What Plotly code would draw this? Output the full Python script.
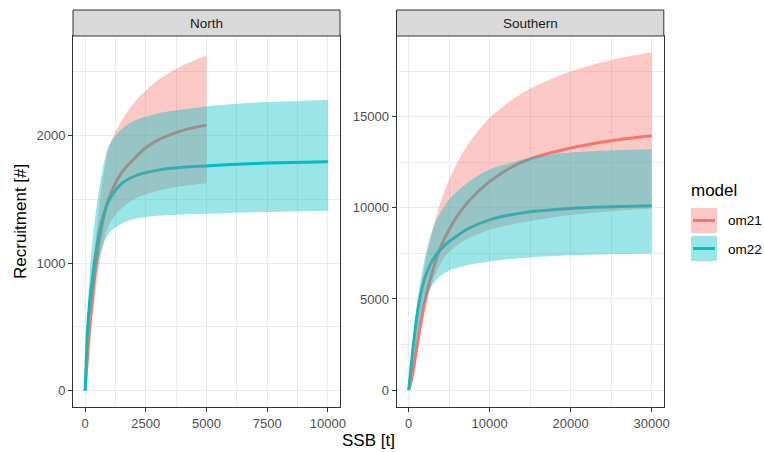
import plotly.graph_objects as go

# ---------------- data ----------------
models = ["om21", "om22"]
panels = ["North", "Southern"]

# North
north_ssb_om21 = [0, 50, 100, 200, 300, 400, 600, 800, 1000, 1500, 2000, 2500, 3000, 4000, 5000]
north_om21_med = [0, 140, 270, 520, 720, 910, 1190, 1390, 1520, 1710, 1815, 1905, 1965, 2040, 2083]
north_om21_low = [0, 110, 220, 420, 590, 740, 1000, 1190, 1310, 1430, 1500, 1540, 1568, 1605, 1628]
north_om21_upp = [0, 180, 340, 640, 900, 1120, 1480, 1740, 1920, 2120, 2255, 2355, 2435, 2550, 2630]

north_ssb_om22 = [0, 50, 100, 200, 300, 400, 600, 800, 1000, 1500, 2000, 2500, 3000, 4000, 5000, 6000, 7500, 10000]
north_om22_med = [0, 260, 480, 720, 880, 1030, 1255, 1405, 1500, 1625, 1680, 1710, 1730, 1752, 1763, 1774, 1785, 1796]
north_om22_low = [0, 180, 330, 560, 730, 850, 1060, 1170, 1240, 1310, 1345, 1362, 1372, 1382, 1388, 1394, 1402, 1412]
north_om22_upp = [0, 330, 600, 950, 1170, 1340, 1610, 1810, 1930, 2050, 2115, 2150, 2175, 2205, 2230, 2247, 2264, 2280]

# Southern
south_ssb = [0, 250, 500, 1000, 1500, 2000, 2500, 3000, 3500, 4000, 5000, 6000, 7500, 10000, 12500, 15000, 20000, 25000, 30000]
south_om21_med = [0, 400, 900, 2300, 3700, 4850, 5800, 6600, 7300, 7900, 8800, 9550, 10400, 11440, 12180, 12680, 13280, 13680, 13950]
south_om21_low = [0, 300, 650, 1800, 3200, 4300, 5250, 6000, 6550, 7000, 7580, 7950, 8350, 8790, 9070, 9276, 9606, 9815, 9960]
south_om21_upp = [0, 1050, 2100, 3900, 5500, 6877, 7953, 8869, 9666, 10371, 11544, 12486, 13594, 14926, 15848, 16532, 17476, 18110, 18534]

south_om22_med = [0, 1050, 2150, 3980, 5300, 6150, 6720, 7150, 7480, 7740, 8150, 8470, 8890, 9340, 9600, 9780, 9964, 10050, 10110]
south_om22_low = [0, 700, 1400, 2700, 4000, 4850, 5400, 5800, 6080, 6300, 6550, 6710, 6880, 7060, 7180, 7280, 7395, 7450, 7487]
south_om22_upp = [0, 1300, 2600, 4700, 6100, 7250, 8150, 8850, 9380, 9800, 10450, 10900, 11450, 12100, 12450, 12750, 13030, 13150, 13230]

north_xticks = [0, 2500, 5000, 7500, 10000]
north_yticks = [0, 1000, 2000]
south_xticks = [0, 10000, 20000, 30000]
south_yticks = [0, 5000, 10000, 15000]

# ---------------- styling ----------------
W, H = 764, 452
FONT = "Liberation Sans, Arial, sans-serif"
col = {"om21": "#F8766D", "om22": "#00BFC4"}
fillc = {"om21": "rgba(248,118,109,0.4)", "om22": "rgba(0,191,196,0.4)"}
SMOOTH = 0.9


def PX(x):
    return x / W


def PY(y):
    return 1 - y / H


panel_top, panel_bot = 36, 407
strip_top = 10
north_x = (73, 340)
south_x = (396.5, 663.8)

fig = go.Figure()

data = {
    "North": {
        "om21": (north_ssb_om21, north_om21_med, north_om21_low, north_om21_upp),
        "om22": (north_ssb_om22, north_om22_med, north_om22_low, north_om22_upp),
    },
    "Southern": {
        "om21": (south_ssb, south_om21_med, south_om21_low, south_om21_upp),
        "om22": (south_ssb, south_om22_med, south_om22_low, south_om22_upp),
    },
}

axes = {"North": ("x", "y"), "Southern": ("x2", "y2")}

for p in panels:
    xa, ya = axes[p]
    # lines first (drawn under the ribbons, as in the reference)
    for m in models:
        s, med, low, upp = data[p][m]
        fig.add_trace(go.Scatter(x=s, y=med, mode="lines", xaxis=xa, yaxis=ya,
                                 line=dict(color=col[m], width=3, shape="spline", smoothing=SMOOTH),
                                 showlegend=False, hoverinfo="skip"))
    for m in models:
        s, med, low, upp = data[p][m]
        fig.add_trace(go.Scatter(x=s, y=low, mode="lines", xaxis=xa, yaxis=ya,
                                 line=dict(width=0, shape="spline", smoothing=SMOOTH),
                                 showlegend=False, hoverinfo="skip"))
        fig.add_trace(go.Scatter(x=s, y=upp, mode="lines", xaxis=xa, yaxis=ya,
                                 line=dict(width=0, shape="spline", smoothing=SMOOTH),
                                 fill="tonexty", fillcolor=fillc[m],
                                 showlegend=False, hoverinfo="skip"))

common_axis = dict(
    showline=True, mirror=True, linecolor="#333333", linewidth=1,
    ticks="outside", ticklen=4, tickwidth=1, tickcolor="#333333",
    showgrid=True, gridcolor="#EBEBEB", gridwidth=1.2, zeroline=False,
    automargin=False,
    tickfont=dict(family=FONT, size=13, color="#4D4D4D"),
)

fig.update_layout(
    width=W, height=H, margin=dict(l=0, r=0, t=0, b=0, autoexpand=False),
    paper_bgcolor="white", plot_bgcolor="white", showlegend=False,
    xaxis=dict(domain=[PX(north_x[0]), PX(north_x[1])], range=[-500, 10500],
               tickvals=north_xticks, ticktext=[str(v) for v in north_xticks],
               minor=dict(dtick=1250, tick0=0, showgrid=True, gridcolor="#EBEBEB", gridwidth=0.6, ticks=""),
               anchor="y", **common_axis),
    yaxis=dict(domain=[PY(panel_bot), PY(panel_top)], range=[-128, 2782],
               tickvals=north_yticks, ticktext=[str(v) for v in north_yticks],
               minor=dict(dtick=500, tick0=0, showgrid=True, gridcolor="#EBEBEB", gridwidth=0.6, ticks=""),
               anchor="x", **common_axis),
    xaxis2=dict(domain=[PX(south_x[0]), PX(south_x[1])], range=[-1500, 31500],
                tickvals=south_xticks, ticktext=[str(v) for v in south_xticks],
                minor=dict(dtick=5000, tick0=0, showgrid=True, gridcolor="#EBEBEB", gridwidth=0.6, ticks=""),
                anchor="y2", **common_axis),
    yaxis2=dict(domain=[PY(panel_bot), PY(panel_top)], range=[-925, 19420],
                tickvals=south_yticks, ticktext=[str(v) for v in south_yticks],
                minor=dict(dtick=2500, tick0=0, showgrid=True, gridcolor="#EBEBEB", gridwidth=0.6, ticks=""),
                anchor="x2", **common_axis),
)

shapes = []
annotations = []

# facet strips
for p, (x0, x1) in zip(panels, [north_x, south_x]):
    shapes.append(dict(type="rect", xref="paper", yref="paper",
                       x0=PX(x0), x1=PX(x1), y0=PY(panel_top), y1=PY(strip_top),
                       fillcolor="#D9D9D9", line=dict(color="#333333", width=1)))
    annotations.append(dict(xref="paper", yref="paper", x=PX((x0 + x1) / 2), y=PY((strip_top + panel_top) / 2),
                            text=p, showarrow=False, xanchor="center", yanchor="middle",
                            font=dict(family=FONT, size=13.5, color="#1A1A1A")))

# axis titles
annotations.append(dict(xref="paper", yref="paper", x=PX(368.5), y=PY(440), text="SSB [t]",
                        showarrow=False, xanchor="center", yanchor="middle",
                        font=dict(family=FONT, size=17, color="black")))
annotations.append(dict(xref="paper", yref="paper", x=PX(20), y=PY(222), text="Recruitment [#]",
                        showarrow=False, xanchor="center", yanchor="middle", textangle=-90,
                        font=dict(family=FONT, size=17, color="black")))

# legend (drawn manually: ribbon fill + line keys)
annotations.append(dict(xref="paper", yref="paper", x=PX(689), y=PY(190), text="model",
                        showarrow=False, xanchor="left", yanchor="middle",
                        font=dict(family=FONT, size=17, color="black")))
key_tops = [208, 236]
for m, kt in zip(models, key_tops):
    shapes.append(dict(type="rect", xref="paper", yref="paper",
                       x0=PX(691), x1=PX(717), y0=PY(kt + 25), y1=PY(kt),
                       fillcolor=fillc[m], line=dict(width=0)))
    shapes.append(dict(type="line", xref="paper", yref="paper",
                       x0=PX(693), x1=PX(715), y0=PY(kt + 12.5), y1=PY(kt + 12.5),
                       line=dict(color=col[m], width=3)))
    annotations.append(dict(xref="paper", yref="paper", x=PX(726), y=PY(kt + 13), text=m,
                            showarrow=False, xanchor="left", yanchor="middle",
                            font=dict(family=FONT, size=13.5, color="black")))

fig.update_layout(shapes=shapes, annotations=annotations)

fig.write_html("out.html", config={"displayModeBar": False},
               post_script="document.body.style.margin='0px';document.body.style.overflow='hidden';")
